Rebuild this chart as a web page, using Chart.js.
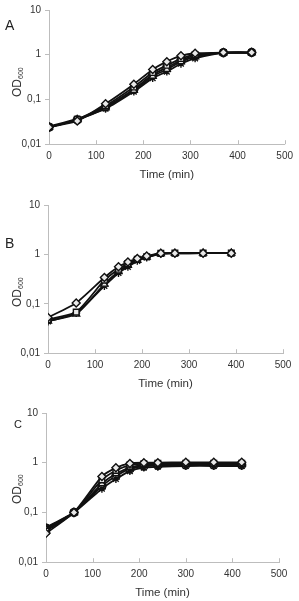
<!DOCTYPE html>
<html><head><meta charset="utf-8">
<script src="https://cdn.jsdelivr.net/npm/chart.js@4/dist/chart.umd.min.js"></script>
<style>
html,body{margin:0;padding:0;background:#fff;width:299px;height:601px;overflow:hidden;font-family:"Liberation Sans",Arial,sans-serif;}
canvas{position:absolute;left:0;}
.lbl{position:absolute;color:#222;}
.od{position:absolute;color:#333;font-size:12px;transform:rotate(-90deg);transform-origin:center center;white-space:nowrap;}
.od sub{font-size:7px;vertical-align:baseline;position:relative;top:2px;}
</style></head><body>
<canvas id="cA" width="299" height="183" style="top:0px"></canvas>
<canvas id="cB" width="299" height="197" style="top:195px"></canvas>
<canvas id="cC" width="299" height="201" style="top:400px"></canvas>
<div class="lbl" style="left:5px;top:17px;font-size:14px">A</div>
<div class="lbl" style="left:5px;top:235px;font-size:14px">B</div>
<div class="lbl" style="left:14px;top:418px;font-size:11px">C</div>
<div class="od" style="left:2px;top:75px;width:30px;height:14px;line-height:14px">OD<sub>600</sub></div>
<div class="od" style="left:2px;top:285px;width:30px;height:14px;line-height:14px">OD<sub>600</sub></div>
<div class="od" style="left:2px;top:482px;width:30px;height:14px;line-height:14px">OD<sub>600</sub></div>
<script>
// ---- data ----
const timeA = [0, 60, 120, 180, 220, 250, 280, 310, 370, 430];
const a1 = [0.024, 0.033, 0.080, 0.22, 0.47, 0.70, 0.95, 1.08, 1.12, 1.12];
const a2 = [0.024, 0.036, 0.072, 0.19, 0.40, 0.58, 0.82, 1.00, 1.12, 1.12];
const a3 = [0.024, 0.035, 0.065, 0.16, 0.33, 0.47, 0.70, 0.90, 1.10, 1.12];
const a4 = [0.025, 0.037, 0.062, 0.15, 0.30, 0.42, 0.63, 0.83, 1.10, 1.12];
const a5 = [0.024, 0.035, 0.068, 0.17, 0.36, 0.52, 0.75, 0.95, 1.11, 1.12];

const timeB = [0, 60, 120, 150, 170, 190, 210, 240, 270, 330, 390];
const b1 = [0.053, 0.104, 0.34, 0.56, 0.70, 0.83, 0.93, 1.06, 1.06, 1.06, 1.06];
const b2 = [0.048, 0.068, 0.30, 0.50, 0.65, 0.80, 0.90, 1.05, 1.06, 1.06, 1.06];
const b3 = [0.045, 0.062, 0.25, 0.45, 0.60, 0.76, 0.88, 1.04, 1.05, 1.06, 1.06];
const b4 = [0.044, 0.065, 0.23, 0.42, 0.56, 0.74, 0.87, 1.03, 1.05, 1.06, 1.06];

const timeC = [0, 60, 120, 150, 180, 210, 240, 300, 360, 420];
const c1 = [0.038, 0.10, 0.53, 0.79, 0.97, 1.00, 1.00, 1.02, 1.02, 1.02];
const c2 = [0.042, 0.10, 0.45, 0.70, 0.90, 0.95, 0.97, 0.98, 0.98, 0.98];
const c3 = [0.045, 0.10, 0.38, 0.60, 0.80, 0.90, 0.92, 0.94, 0.94, 0.94];
const c4 = [0.050, 0.10, 0.30, 0.47, 0.68, 0.80, 0.83, 0.86, 0.86, 0.86];
const c5 = [0.048, 0.10, 0.34, 0.54, 0.75, 0.85, 0.88, 0.90, 0.90, 0.90];

const yTicks = [0.01, 0.1, 1, 10];
const yTickLabels = ["0,01", "0,1", "1", "10"];
const xMax = 500;
const xStep = 100;
const xTitle = "Time (min)";

// ---- styles ----
const markers = ['rectRot', 'rect', 'triangle', 'star', 'circle'];
const AXIS = '#bdbdbd';

function mk(times, series) {
  return series.map((s, i) => ({
    data: times.map((t, k) => ({x: t, y: s[k]})),
    borderColor: '#111',
    borderWidth: 1.8,
    pointStyle: markers[i],
    pointRadius: 4,
    pointBorderWidth: 1.4,
    pointBorderColor: '#111',
    pointBackgroundColor: markers[i] === 'star' ? '#111' : '#e8e8e8',
    tension: 0.2,
    fill: false
  }));
}

const upTicks = {
  id: 'upTicks',
  afterDraw(chart) {
    const sx = chart.scales.x, ctx = chart.ctx;
    const b = chart.chartArea.bottom;
    ctx.save();
    ctx.strokeStyle = AXIS; ctx.lineWidth = 1;
    sx.ticks.forEach(t => {
      const px = Math.round(sx.getPixelForValue(t.value)) + 0.5;
      ctx.beginPath(); ctx.moveTo(px, b); ctx.lineTo(px, b - 4); ctx.stroke();
    });
    ctx.restore();
  }
};

function make(id, times, series, padTop, right, yw) {
  const cv = document.getElementById(id);
  return new Chart(cv, {
    type: 'line',
    data: {datasets: mk(times, series)},
    plugins: [upTicks],
    options: {
      responsive: false, animation: false, devicePixelRatio: 1,
      layout: {padding: {top: padTop, right: 299 - right, left: 0, bottom: 0}},
      plugins: {legend: {display: false}, tooltip: {enabled: false}},
      scales: {
        x: {
          type: 'linear', min: 0, max: xMax,
          ticks: {stepSize: xStep, color: '#333', padding: 6, maxRotation: 0,
                  font: {family: '"Liberation Sans", Arial', size: 10}},
          grid: {drawOnChartArea: false, drawTicks: false},
          border: {color: AXIS},
          title: {display: true, text: xTitle, color: '#333', padding: {top: 0, bottom: 1},
                  font: {family: '"Liberation Sans", Arial', size: 11.5}}
        },
        y: {
          type: 'logarithmic', min: 0.01, max: 10,
          afterFit(s) { s.width = yw; },
          afterBuildTicks(s) { s.ticks = yTicks.map(v => ({value: v})); },
          ticks: {color: '#333', padding: 4,
                  font: {family: '"Liberation Sans", Arial', size: 10},
                  callback: (v) => { const i = yTicks.indexOf(v); return i >= 0 ? yTickLabels[i] : ''; }},
          grid: {drawOnChartArea: false, drawTicks: true, tickLength: 4, color: AXIS},
          border: {color: AXIS}
        }
      }
    }
  });
}

make('cA', timeA, [a1, a2, a3, a4, a5], 7, 288, 49);
make('cB', timeB, [b1, b2, b3, b4], 9, 283, 48);
make('cC', timeC, [c1, c2, c3, c4, c5], 13, 279, 46);
</script>
</body></html>
